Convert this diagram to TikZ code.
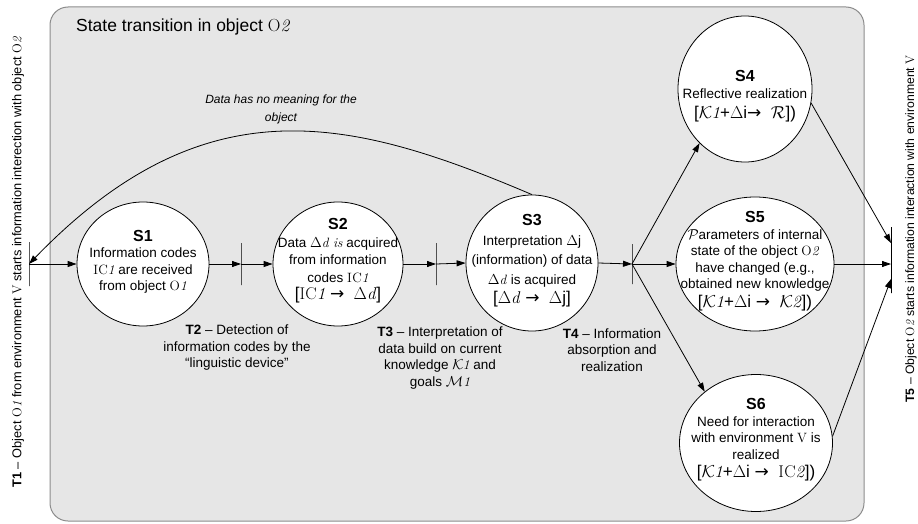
\documentclass[tikz,border=0pt]{standalone}
\usepackage{fontspec}
\setsansfont{Liberation Sans}
\newfontfamily\arrowfont{DejaVu Sans}
\usetikzlibrary{shapes.geometric,arrows.meta}

% symbols used in the state descriptions
\newcommand\sO[1]{{\rmfamily O\kern0.2pt\textit{#1}}}
\newcommand\sIC[1]{{\rmfamily I\kern0.3pt C\textit{#1}}}
\newcommand\sK[1]{$\mathcal{K}$\kern-0.5pt{\rmfamily\textit{#1}}}
\newcommand\sV{{\rmfamily V}}
\newcommand\Dd{$\Delta${\rmfamily\textit{d}}}
\newcommand\Dj{$\Delta$j}
\newcommand\Di{$\Delta$i}
\newcommand\ra{{\arrowfont →}}

\definecolor{panelfill}{RGB}{230,230,230}
\definecolor{panelline}{RGB}{140,140,140}

\tikzset{
  every node/.style={font=\sffamily\fontsize{13.5}{16.5}\selectfont, inner sep=0pt},
  stateshape/.style={ellipse, draw=black, fill=white, line width=0.8pt, inner sep=0pt},
  statetxt/.style={align=center},
  barnode/.style={draw=black, line width=0.8pt, rectangle, minimum width=0pt, minimum height=#1},
  flow/.style={line width=0.8pt, -{Triangle[length=9pt,width=6pt]}},
  sidetext/.style={rotate=90, font=\sffamily\fontsize{12.8}{14}\selectfont},
  note/.style={align=center, font=\sffamily\fontsize{13.5}{16.5}\selectfont},
}

\begin{document}
\begin{tikzpicture}[x=1pt,y=-1pt]
\useasboundingbox (0,0) rectangle (918,524);

% grey panel
\draw[panelline, fill=panelfill, line width=1pt, rounded corners=18pt] (50,7) rectangle (864,521);
\node[anchor=west, font=\sffamily\fontsize{17.5}{19}\selectfont] (title) at (76,27) {State transition in object \sO2};

% side transitions
\node[sidetext] (t1) at (18,262) {\textbf{T1} – Object \sO1 from  environment \sV\ starts information interection with object \sO2};
\node[sidetext, font=\sffamily\fontsize{12.2}{14}\selectfont] (t5) at (911,229) {\textbf{T5} – Object \sO2 starts information interaction with environment \sV};

% bars
\node[barnode=44] (bL) at (29,264) {};
\node[barnode=42] (b2) at (241,264) {};
\node[barnode=42] (b3) at (436,264) {};
\node[barnode=40] (b4) at (632,264) {};
\node[barnode=66] (bR) at (891,260) {};
\coordinate (r4) at (891,243);
\coordinate (r5) at (891,264);
\coordinate (r6) at (891,279);

% states
\node[stateshape, minimum width=132, minimum height=124] (s1) at (143,264) {};
\node[stateshape, minimum width=130, minimum height=124] (s2) at (338,264) {};
\node[stateshape, minimum width=132, minimum height=136] (s3) at (532,263) {};
\node[stateshape, minimum width=134, minimum height=146] (s4) at (745,89) {};
\node[stateshape, minimum width=158, minimum height=134] (s5) at (755,264) {};
\node[stateshape, minimum width=153, minimum height=137] (s6) at (756,443) {};

\node[statetxt, font=\sffamily\fontsize{13.5}{16.5}\selectfont] (s1t) at (143,262)
  {{\bfseries\fontsize{16}{16}\selectfont S1}\\Information codes\\\sIC1 are received\\from object \sO1};
\node[statetxt, font=\sffamily\fontsize{13.5}{17.5}\selectfont] (s2t) at (338,261)
  {{\bfseries\fontsize{16}{16}\selectfont S2}\\Data \Dd\ {\rmfamily\itshape is} acquired\\from information\\codes \sIC1\\{\fontsize{17}{19}\selectfont[\sIC1 \ra\ \ \Dd]}};
\node[statetxt, font=\sffamily\fontsize{13.5}{19.5}\selectfont] (s3t) at (532,261)
  {{\bfseries\fontsize{16}{16}\selectfont S3}\\Interpretation \Dj\\(information) of data\\\Dd\ is acquired\\{\fontsize{17}{19}\selectfont[\Dd\ \ra\ \ \Dj]}};
\node[statetxt, font=\sffamily\fontsize{13.5}{17}\selectfont] (s4t) at (745,96)
  {{\bfseries\fontsize{16}{16}\selectfont S4}\\Reflective realization\\[3pt]{\fontsize{17}{21}\selectfont[\sK1+\Di\ra\ \ $\mathcal{R}$])}};
\node[statetxt, font=\sffamily\fontsize{13.5}{16.5}\selectfont] (s5t) at (755,261)
  {{\bfseries\fontsize{16}{16}\selectfont S5}\\$\mathcal{P}$arameters of internal\\state of the object \sO2\\have changed (e.g.,\\obtained  new knowledge\\[2pt]{\fontsize{17}{19}\selectfont[\sK1+\Di\ \ra\ \ \sK2])}};
\node[statetxt, font=\sffamily\fontsize{13.5}{16.5}\selectfont] (s6t) at (756,440)
  {{\bfseries\fontsize{16}{16}\selectfont S6}\\Need for interaction\\with environment \sV\ is\\realized\\[2pt]{\fontsize{17}{19}\selectfont[\sK1+\Di\ \ra\ \ \sIC2])}};

% transition notes
\node[note] (t2) at (237,348) {\textbf{T2} – Detection of\\information codes  by the\\“linguistic device”};
\node[note] (t3) at (440,358) {\textbf{T3} – Interpretation of\\data build on current\\knowledge \sK1 and\\goals $\mathcal{M}$\textit{\rmfamily 1}};
\node[note] (t4) at (612,350) {\textbf{T4} – Information\\absorption and\\realization};

% main flow
\draw[flow] (bL.center) -- (s1.west);
\draw[flow] (s1.east) -- (b2.center);
\draw[flow] (b2.center) -- (s2.west);
\draw[flow] (s2.east) -- (b3.center);
\draw[flow] (b3.center) -- (s3.west);
\draw[flow] (s3.east) -- (b4.center);
\draw[flow] (b4.center) -- (s4.230);
\draw[flow] (b4.center) -- (s5.west);
\draw[flow] (b4.center) -- (s6.135);
\draw[flow] (s4.-12) -- (r4);
\draw[flow] (s5.east) -- (r5);
\draw[flow] (s6.5) -- (r6);

% return path
\draw[flow] (s3.north) .. controls (352,118) and (206,81) .. (bL.center);
\node[align=center, font=\sffamily\itshape\fontsize{12}{18}\selectfont] (ret) at (281,109) {Data has no meaning for the\\object};
\end{tikzpicture}
\end{document}
